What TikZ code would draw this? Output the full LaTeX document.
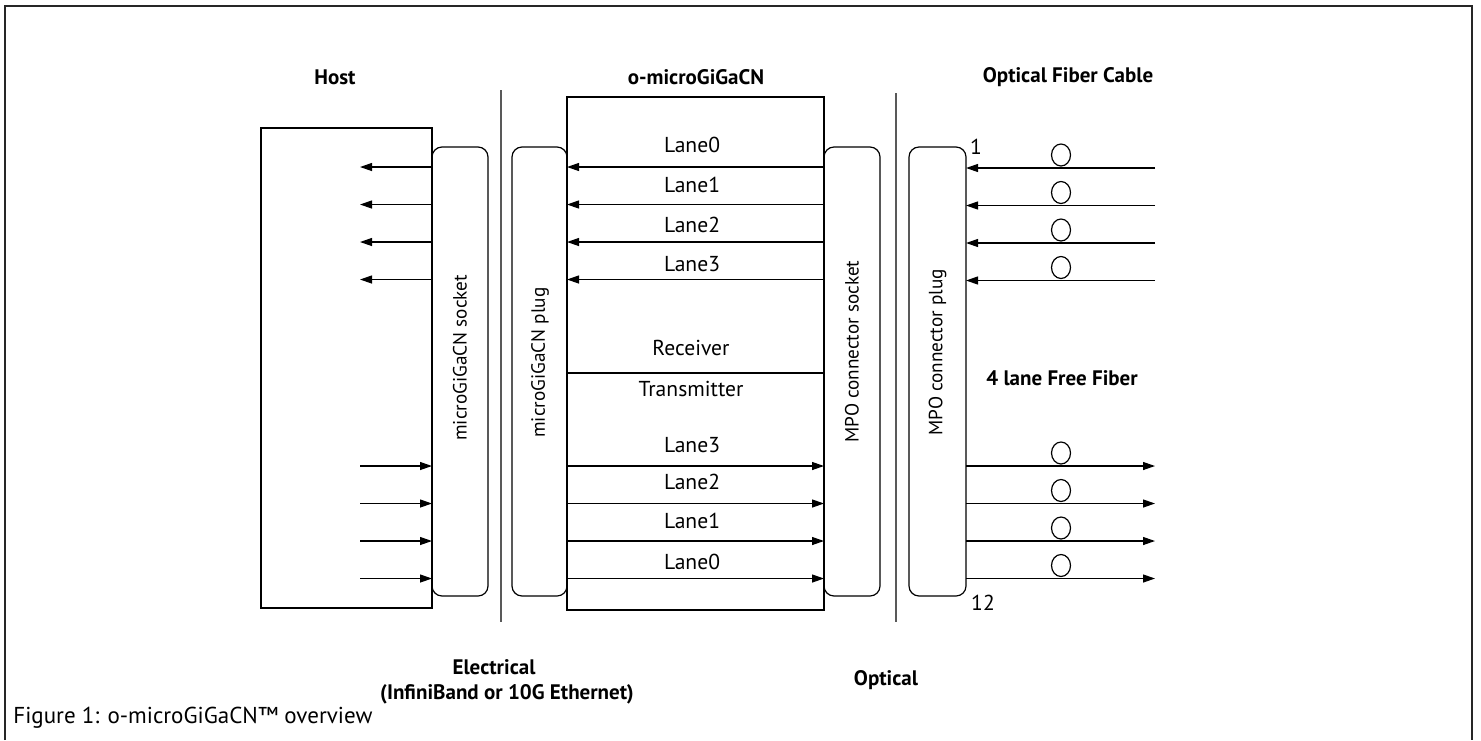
\documentclass[tikz,border=0pt]{standalone}
\usepackage{fontspec}
\setmainfont{PT Sans}
\usetikzlibrary{arrows.meta,shapes.geometric}
\tikzset{
  ln/.style={line width=0.6pt,black},
  arr/.style={ln,-{Triangle[length=6pt,width=4pt]}},
  conn/.style={draw,line width=0.6pt,rounded corners=5pt},
  sep/.style={line width=0.7pt,black!65},
  ttl/.style={font=\fontsize{10.5}{12}\selectfont\bfseries,inner sep=0pt},
  lbl/.style={font=\fontsize{10.8}{12}\selectfont,inner sep=0pt},
  rlbl/.style={font=\fontsize{9.6}{11}\selectfont,inner sep=0pt,rotate=90,anchor=west},
  fib/.style={draw,ellipse,line width=0.6pt,minimum width=9.5pt,minimum height=11pt,inner sep=0pt}
}
\begin{document}
\begin{tikzpicture}[x=0.5pt,y=-0.5pt]
\useasboundingbox (0,0) rectangle (1481,740);
% frame
\draw[line width=1pt,black!85] (5,740) -- (5,6) -- (1472,6) -- (1472,740);
% titles
\node[ttl] (thost) at (335,77) {Host};
\node[ttl] (tmod) at (696,77) {o-microGiGaCN};
\node[ttl] (tfib) at (1068,77) {Optical Fiber Cable};
% boxes
\draw[ln] (261,128) rectangle (432,608);
\draw[ln] (567,97) rectangle (824,610);
\draw[conn] (432,147) rectangle (488,596);
\draw[conn] (512,147) rectangle (567,596);
\draw[conn] (824,147) rectangle (880,596);
\draw[conn] (909,147) rectangle (966,596);
% separators
\coordinate (s1t) at (501,90); \coordinate (s1b) at (501,622);
\coordinate (s2t) at (896,93); \coordinate (s2b) at (896,622);
\draw[sep] (s1t) -- (s1b);
\draw[sep] (s2t) -- (s2b);
% rotated labels
\node[rlbl] (lsock) at (460,441) {microGiGaCN socket};
\node[rlbl] (lplug) at (540,438) {microGiGaCN plug};
\node[rlbl] (lmpos) at (852,443) {MPO connector socket};
\node[rlbl] (lmpop) at (937.5,436) {MPO connector plug};
% receiver / transmitter divider
\coordinate (dl) at (567,373); \coordinate (dr) at (824,373);
\draw[ln] (dl) -- (dr);
\node[lbl] (rx) at (691,348) {Receiver};
\node[lbl] (tx) at (691,389) {Transmitter};
% upper lanes (receive)
\foreach \i/\y/\ly in {0/167/145,1/204.5/185,2/242/225,3/279.5/264}{
  \coordinate (hA\i) at (432,\y); \coordinate (hB\i) at (360,\y);
  \coordinate (mA\i) at (824,\y); \coordinate (mB\i) at (567,\y);
  \coordinate (fA\i) at (1155,\y+1); \coordinate (fB\i) at (966,\y+1);
  \draw[arr] (hA\i) -- (hB\i);
  \draw[arr] (mA\i) -- (mB\i);
  \draw[arr] (fA\i) -- (fB\i);
  \node[lbl] (rl\i) at (692,\ly) {Lane\i};
  \node[fib] (rc\i) at (1061,\y-12) {};
}
% lower lanes (transmit)
\foreach \i/\y/\ly in {3/466/445,2/503.5/482,1/541/521,0/578.5/562}{
  \coordinate (hC\i) at (360,\y); \coordinate (hD\i) at (432,\y);
  \coordinate (mC\i) at (567,\y); \coordinate (mD\i) at (824,\y);
  \coordinate (fC\i) at (966,\y); \coordinate (fD\i) at (1155,\y);
  \draw[arr] (hC\i) -- (hD\i);
  \draw[arr] (mC\i) -- (mD\i);
  \draw[arr] (fC\i) -- (fD\i);
  \node[lbl] (tl\i) at (692,\ly) {Lane\i};
  \node[fib] (tc\i) at (1061,\y-13) {};
}
\node[lbl] (n1) at (976,147) {1};
\node[lbl] (n12) at (983,603) {12};
\node[ttl] (free) at (1062,378) {4 lane Free Fiber};
\node[ttl] (elec) at (494,667) {Electrical};
\node[ttl] (elec2) at (507,694) {(InfiniBand or 10G Ethernet)};
\node[ttl] (opt) at (886,680) {Optical};
\node[lbl,anchor=west,font=\fontsize{11.5}{13}\selectfont] (cap) at (13,718) {Figure 1: o-microGiGaCN™ overview};
\end{tikzpicture}
\end{document}
